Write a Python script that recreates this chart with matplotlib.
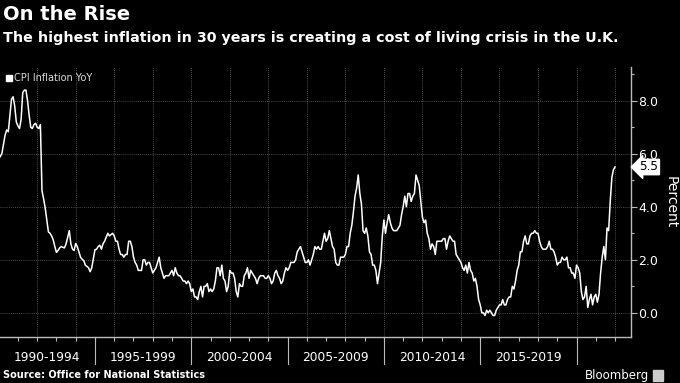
import numpy as np
import matplotlib
matplotlib.use("Agg")
import matplotlib.pyplot as plt
from matplotlib.patches import Rectangle

# UK CPI inflation, year-on-year %, monthly from Jan 1990 to Jan 2022
cpi_1990 = [5.8, 5.9, 6.0, 6.35, 6.7, 6.9, 6.83, 7.45, 8.05, 8.15, 7.8, 7.2]
cpi_1991 = [7.05, 6.95, 7.3, 8.3, 8.4, 8.4, 8.0, 7.45, 7.0, 6.95, 7.1, 7.15]
cpi_1992 = [7.0, 6.95, 7.1, 4.6, 4.3, 3.95, 3.5, 3.05, 3.0, 2.9, 2.75, 2.5]
cpi_1993 = [2.28, 2.35, 2.45, 2.5, 2.47, 2.45, 2.6, 2.85, 3.1, 2.6, 2.4, 2.35]
cpi_1994 = [2.62, 2.5, 2.3, 2.1, 2.02, 1.97, 1.8, 1.75, 1.7, 1.55, 1.7, 2.05]
cpi_1995 = [2.38, 2.4, 2.5, 2.55, 2.4, 2.6, 2.7, 2.85, 3.0, 2.9, 2.95, 3.0]
cpi_1996 = [2.9, 2.7, 2.7, 2.4, 2.2, 2.2, 2.1, 2.2, 2.2, 2.7, 2.7, 2.5]
cpi_1997 = [2.1, 1.9, 1.8, 1.6, 1.6, 1.6, 2.0, 2.0, 1.8, 1.9, 1.9, 1.7]
cpi_1998 = [1.5, 1.6, 1.7, 1.9, 2.1, 1.7, 1.5, 1.3, 1.4, 1.4, 1.4, 1.5]
cpi_1999 = [1.6, 1.4, 1.7, 1.5, 1.4, 1.4, 1.3, 1.2, 1.2, 1.1, 1.2, 1.1]
cpi_2000 = [0.8, 0.9, 0.6, 0.6, 0.5, 0.8, 1.0, 0.6, 1.0, 1.0, 1.1, 0.8]
cpi_2001 = [0.9, 0.8, 0.9, 1.2, 1.7, 1.7, 1.4, 1.8, 1.3, 1.2, 0.8, 1.0]
cpi_2002 = [1.6, 1.5, 1.5, 1.3, 0.8, 0.6, 1.1, 1.0, 1.0, 1.4, 1.5, 1.7]
cpi_2003 = [1.3, 1.6, 1.5, 1.4, 1.3, 1.1, 1.3, 1.4, 1.4, 1.4, 1.3, 1.3]
cpi_2004 = [1.4, 1.3, 1.1, 1.2, 1.5, 1.6, 1.4, 1.3, 1.1, 1.2, 1.5, 1.7]
cpi_2005 = [1.6, 1.7, 1.9, 1.9, 1.9, 2.0, 2.3, 2.4, 2.5, 2.3, 2.1, 1.9]
cpi_2006 = [1.9, 2.0, 1.8, 2.0, 2.2, 2.5, 2.4, 2.5, 2.4, 2.4, 2.7, 3.0]
cpi_2007 = [2.7, 2.8, 3.1, 2.8, 2.5, 2.4, 1.9, 1.8, 1.8, 2.1, 2.1, 2.1]
cpi_2008 = [2.2, 2.5, 2.5, 3.0, 3.3, 3.8, 4.4, 4.7, 5.2, 4.5, 4.1, 3.1]
cpi_2009 = [3.0, 3.2, 2.9, 2.3, 2.2, 1.8, 1.8, 1.6, 1.1, 1.5, 1.9, 2.9]
cpi_2010 = [3.5, 3.0, 3.4, 3.7, 3.4, 3.2, 3.1, 3.1, 3.1, 3.2, 3.3, 3.7]
cpi_2011 = [4.0, 4.4, 4.0, 4.5, 4.5, 4.2, 4.4, 4.5, 5.2, 5.0, 4.8, 4.2]
cpi_2012 = [3.6, 3.4, 3.5, 3.0, 2.8, 2.4, 2.6, 2.5, 2.2, 2.7, 2.7, 2.7]
cpi_2013 = [2.7, 2.8, 2.8, 2.4, 2.7, 2.9, 2.8, 2.7, 2.7, 2.2, 2.1, 2.0]
cpi_2014 = [1.9, 1.7, 1.6, 1.8, 1.5, 1.9, 1.6, 1.5, 1.2, 1.3, 1.0, 0.5]
cpi_2015 = [0.3, 0.0, 0.0, -0.1, 0.1, 0.0, 0.1, 0.0, -0.1, -0.1, 0.1, 0.2]
cpi_2016 = [0.3, 0.3, 0.5, 0.3, 0.3, 0.5, 0.6, 0.6, 1.0, 0.9, 1.2, 1.6]
cpi_2017 = [1.8, 2.3, 2.3, 2.7, 2.9, 2.6, 2.6, 2.9, 3.0, 3.0, 3.1, 3.0]
cpi_2018 = [3.0, 2.7, 2.5, 2.4, 2.4, 2.4, 2.5, 2.7, 2.4, 2.4, 2.3, 2.1]
cpi_2019 = [1.8, 1.9, 1.9, 2.1, 2.0, 2.0, 2.1, 1.7, 1.7, 1.5, 1.5, 1.3]
cpi_2020 = [1.8, 1.7, 1.5, 0.8, 0.5, 0.6, 1.0, 0.2, 0.5, 0.7, 0.3, 0.6]
cpi_2021 = [0.7, 0.4, 0.7, 1.5, 2.1, 2.5, 2.0, 3.2, 3.1, 4.2, 5.1, 5.4]
cpi_2022 = [5.5]

period_labels = ["1990-1994", "1995-1999", "2000-2004", "2005-2009",
                 "2010-2014", "2015-2019"]
period_starts = [1990, 1995, 2000, 2005, 2010, 2015]
y_ticks = [0.0, 2.0, 4.0, 6.0, 8.0]

values = (cpi_1990 + cpi_1991 + cpi_1992 + cpi_1993 + cpi_1994 + cpi_1995
          + cpi_1996 + cpi_1997 + cpi_1998 + cpi_1999 + cpi_2000 + cpi_2001
          + cpi_2002 + cpi_2003 + cpi_2004 + cpi_2005 + cpi_2006 + cpi_2007
          + cpi_2008 + cpi_2009 + cpi_2010 + cpi_2011 + cpi_2012 + cpi_2013
          + cpi_2014 + cpi_2015 + cpi_2016 + cpi_2017 + cpi_2018 + cpi_2019
          + cpi_2020 + cpi_2021 + cpi_2022)
dates = 1990 + np.arange(len(values)) / 12.0

fig = plt.figure(figsize=(6.8, 3.83), dpi=100, facecolor="black")
ax = fig.add_axes([0.0, 0.1209, 0.928, 0.7034], facecolor="black")

ax.plot(dates, values, color="white", linewidth=1.1, zorder=3)

ax.set_xlim(1990.07, 2022.83)
ax.set_ylim(-0.9, 9.26)

# y axis on the right
ax.yaxis.tick_right()
ax.set_yticks(y_ticks)
ax.set_yticklabels([f"{v:.1f}" for v in y_ticks])
ax.set_yticks(np.arange(1, 10, 2), minor=True)
ax.tick_params(axis="y", which="major", colors="#bbbbbb", labelcolor="white",
               labelsize=9, length=4, width=0.8, direction="out", pad=1)
ax.tick_params(axis="y", which="minor", colors="#bbbbbb", length=2, width=0.8)
ax.yaxis.set_label_position("right")
ax.set_ylabel("Percent", color="white", fontsize=10, rotation=270,
              labelpad=14)

# x axis: yearly ticks, long separators between 5-year blocks
years = np.arange(1991, 2023)
ax.set_xticks(years, minor=True)
ax.set_xticks([])
ax.tick_params(axis="x", which="minor", colors="#bbbbbb", length=3, width=0.8)
for yr in period_starts[1:] + [2020]:
    ax.plot([yr, yr], [0, -0.1], transform=ax.get_xaxis_transform(),
            color="#bbbbbb", linewidth=0.8, clip_on=False)
for yr, lab in zip(period_starts, period_labels):
    ax.text(yr + 2.5, -0.078, lab, transform=ax.get_xaxis_transform(),
            ha="center", va="center", color="white", fontsize=8.8)

# grid
for v in y_ticks:
    ax.axhline(v, color="#666666", linewidth=0.6, linestyle=(0, (1, 1.5)),
               zorder=1)
for yr in range(1992, 2023, 2):
    ax.axvline(yr, color="#666666", linewidth=0.6, linestyle=(0, (1, 1.5)),
               zorder=1)

for side in ["top", "left"]:
    ax.spines[side].set_visible(False)
for side in ["right", "bottom"]:
    ax.spines[side].set_color("#bbbbbb")
    ax.spines[side].set_linewidth(1.0)

# last value tag
ax.text(1.013, values[-1], f"{values[-1]:.1f}",
        transform=ax.get_yaxis_transform(), ha="left", va="center",
        color="black", fontsize=8.7,
        bbox=dict(boxstyle="larrow,pad=0.1", fc="white", ec="white"))

# titles and legend
fig.text(0.004, 0.963, "On the Rise", color="white", fontsize=14,
         fontweight="bold", ha="left", va="center")
fig.text(0.004, 0.900,
         "The highest inflation in 30 years is creating a cost of living crisis in the U.K.",
         color="white", fontsize=10.3, fontweight="bold", ha="left", va="center")
fig.patches.append(Rectangle((0.009, 0.788), 0.009, 0.016,
                             transform=fig.transFigure, color="white"))
fig.text(0.021, 0.797, "CPI Inflation YoY", color="#dddddd", fontsize=7,
         ha="left", va="center")

fig.text(0.004, 0.02, "Source: Office for National Statistics", color="white",
         fontsize=7, fontweight="bold", ha="left", va="center")
fig.text(0.955, 0.02, "Bloomberg", color="white", fontsize=8.5,
         ha="right", va="center")
fig.patches.append(Rectangle((0.961, 0.006), 0.014, 0.028,
                             transform=fig.transFigure, color="#cccccc"))

fig.savefig("out.png", dpi=100, facecolor="black")
